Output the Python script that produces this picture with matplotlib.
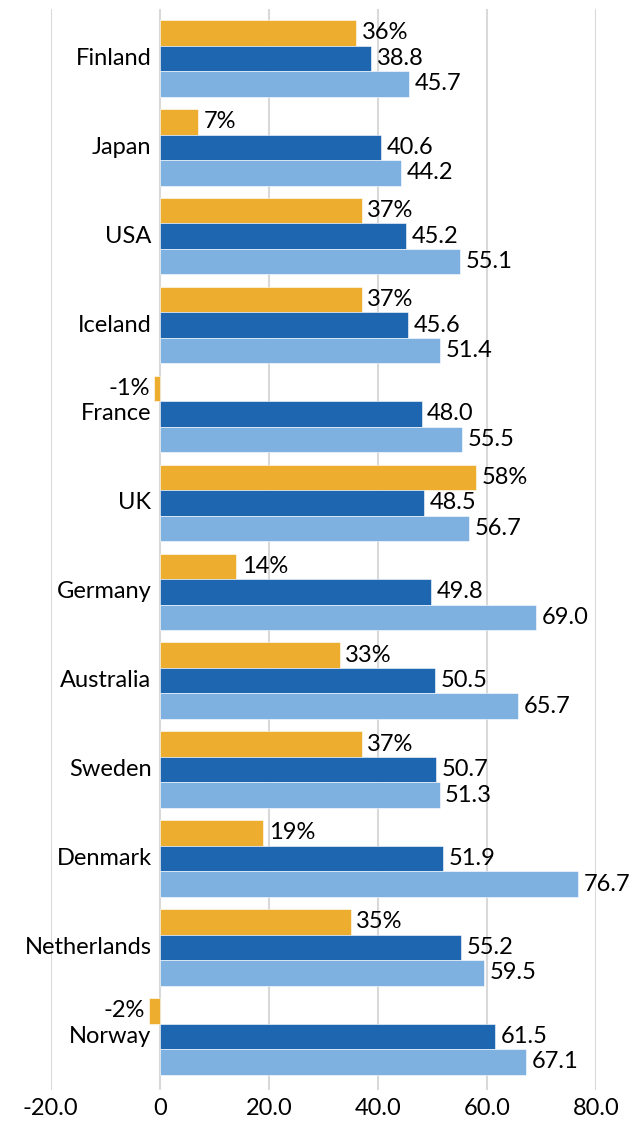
import numpy as np
import matplotlib
matplotlib.use('Agg')
import matplotlib.pyplot as plt

countries = ['Finland', 'Japan', 'USA', 'Iceland', 'France', 'UK', 'Germany',
             'Australia', 'Sweden', 'Denmark', 'Netherlands', 'Norway']
pct_change = [36, 7, 37, 37, -1, 58, 14, 33, 37, 19, 35, -2]
dark_vals = [38.8, 40.6, 45.2, 45.6, 48.0, 48.5, 49.8, 50.5, 50.7, 51.9, 55.2, 61.5]
light_vals = [45.7, 44.2, 55.1, 51.4, 55.5, 56.7, 69.0, 65.7, 51.3, 76.7, 59.5, 67.1]
xticks = [-20, 0, 20, 40, 60, 80]

c_orange = '#EDAE2F'
c_dark = '#1F66B0'
c_light = '#7EB1DF'

plt.rcParams['font.family'] = ['Lato', 'DejaVu Sans']
plt.rcParams['font.size'] = 17

fig = plt.figure(figsize=(6.43, 11.28), dpi=100)
ax = fig.add_axes([0.079, 0.034, 0.848, 0.958])

y = np.arange(len(countries))
h = 0.287

ax.barh(y - h, pct_change, height=h, color=c_orange, edgecolor='white', linewidth=0.4, zorder=3)
ax.barh(y, dark_vals, height=h, color=c_dark, edgecolor='white', linewidth=0.4, zorder=3)
ax.barh(y + h, light_vals, height=h, color=c_light, edgecolor='white', linewidth=0.4, zorder=3)

for i in range(len(countries)):
    p = pct_change[i]
    if p >= 0:
        ax.annotate(f'{p}%', xy=(p, y[i] - h), xytext=(4, 0), textcoords='offset points',
                    ha='left', va='center', annotation_clip=False)
    else:
        ax.annotate(f'{p}%', xy=(p, y[i] - h), xytext=(-3, 0), textcoords='offset points',
                    ha='right', va='center', annotation_clip=False)
    ax.annotate(f'{dark_vals[i]:.1f}', xy=(dark_vals[i], y[i]), xytext=(4, 0),
                textcoords='offset points', ha='left', va='center', annotation_clip=False)
    ax.annotate(f'{light_vals[i]:.1f}', xy=(light_vals[i], y[i] + h), xytext=(4, 0),
                textcoords='offset points', ha='left', va='center', annotation_clip=False)
    ax.annotate(countries[i], xy=(0, y[i]), xytext=(-6, 0), textcoords='offset points',
                ha='right', va='center', annotation_clip=False)

ax.set_xlim(-20, 80)
ax.set_ylim(11.6, -0.555)
ax.set_xticks(xticks)
ax.set_xticklabels(['0' if t == 0 else f'{t:.1f}' for t in xticks])
ax.set_yticks([])
ax.tick_params(axis='x', length=0, pad=6, labelsize=17)
ax.grid(axis='x', color='#D9D9D9', linewidth=1.5, zorder=0)
for s in ax.spines.values():
    s.set_visible(False)

fig.savefig('out.png', dpi=100)
